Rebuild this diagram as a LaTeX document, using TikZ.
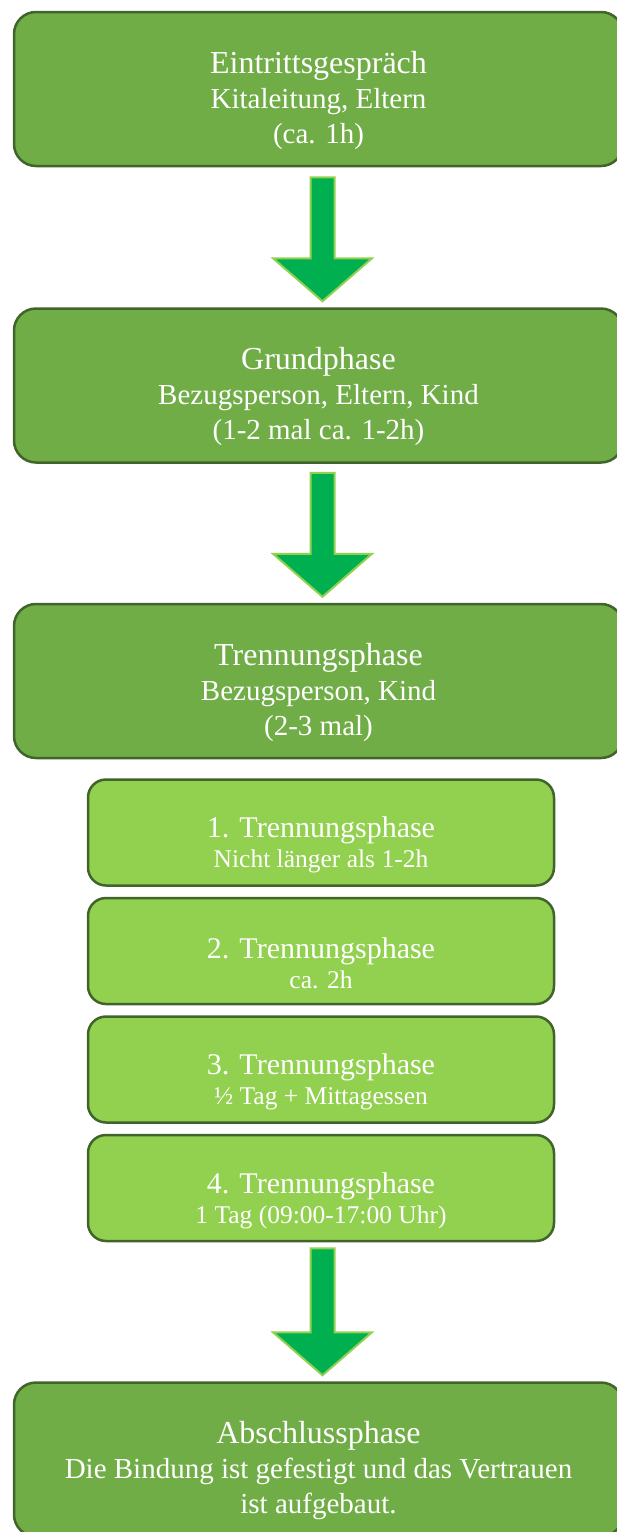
\documentclass[tikz,border=0pt]{standalone}
\usepackage{fontspec}
\setmainfont{Liberation Serif}
\usetikzlibrary{positioning,calc}
\definecolor{phasegreen}{HTML}{70AD47}
\definecolor{phaseline}{HTML}{41642A}
\definecolor{subgreen}{HTML}{92D050}
\definecolor{arrowgreen}{HTML}{00B050}
\newcommand{\phasetitle}[1]{\rule{0pt}{45pt}{\fontsize{32}{35}\selectfont #1}}
\newcommand{\subphasetitle}[1]{\rule{0pt}{46pt}{\fontsize{30}{30}\selectfont #1}}
\newcommand{\phasearrow}[2]{\filldraw[arrow_shape] ($(#1)+(-12,0)$) -- ($(#1)+(12,0)$) -- ($(#2)+(12,-43)$) -- ($(#2)+(49.5,-43)$) -- (#2) -- ($(#2)+(-49.5,-43)$) -- ($(#2)+(-12,-43)$) -- cycle;}
\begin{document}
\begin{tikzpicture}[x=1pt,y=-1pt,phase/.style={rectangle, rounded corners=22pt, draw=phaseline, fill=phasegreen, line width=2.5pt, minimum width=609pt, minimum height=154pt, text=white, align=center, font=\fontsize{29}{35}\selectfont},subphase/.style={rectangle, rounded corners=18pt, draw=phaseline, fill=subgreen, line width=2.5pt, minimum width=466pt, minimum height=106pt, text=white, align=center, font=\fontsize{25.5}{30}\selectfont},arrow_shape/.style={fill=arrowgreen, draw=subgreen, line width=2pt, line join=miter}]
    \useasboundingbox (0,0) rectangle (617,1532);
    \node[phase] (intro) at (318.5,89) {\phasetitle{Eintrittsgespräch}\\Kitaleitung, Eltern\\(ca. 1h)};
    \node[phase, below=140pt of intro] (basic) {\phasetitle{Grundphase}\\Bezugsperson, Eltern, Kind\\(1-2 mal ca. 1-2h)};
    \node[phase, below=139pt of basic] (split) {\phasetitle{Trennungsphase}\\Bezugsperson, Kind\\(2-3 mal)};
    \node[subphase, below=19pt of split, xshift=2.5pt] (sep1) {\subphasetitle{1. Trennungsphase}\\Nicht länger als 1-2h};
    \node[subphase, below=10pt of sep1] (sep2) {\subphasetitle{2. Trennungsphase}\\ca. 2h};
    \node[subphase, below=10pt of sep2] (sep3) {\subphasetitle{3. Trennungsphase}\\½ Tag + Mittagessen};
    \node[subphase, below=10pt of sep3] (sep4) {\subphasetitle{4. Trennungsphase}\\1 Tag (09:00-17:00 Uhr)};
    \node[phase, below=139pt of sep4, xshift=-2.5pt] (final) {\phasetitle{Abschlussphase}\\Die Bindung ist gefestigt und das Vertrauen\\ist aufgebaut.};
    \coordinate (a1top) at ($(intro.south)+(4,10)$);
    \coordinate (a1tip) at ($(basic.north)+(4,-6)$);
    \coordinate (a2top) at ($(basic.south)+(4,9)$);
    \coordinate (a2tip) at ($(split.north)+(4,-6)$);
    \coordinate (a3top) at ($(sep4.south)+(1.5,6)$);
    \coordinate (a3tip) at ($(final.north)+(4,-6)$);
    \phasearrow{a1top}{a1tip}
    \phasearrow{a2top}{a2tip}
    \phasearrow{a3top}{a3tip}
\end{tikzpicture}
\end{document}
